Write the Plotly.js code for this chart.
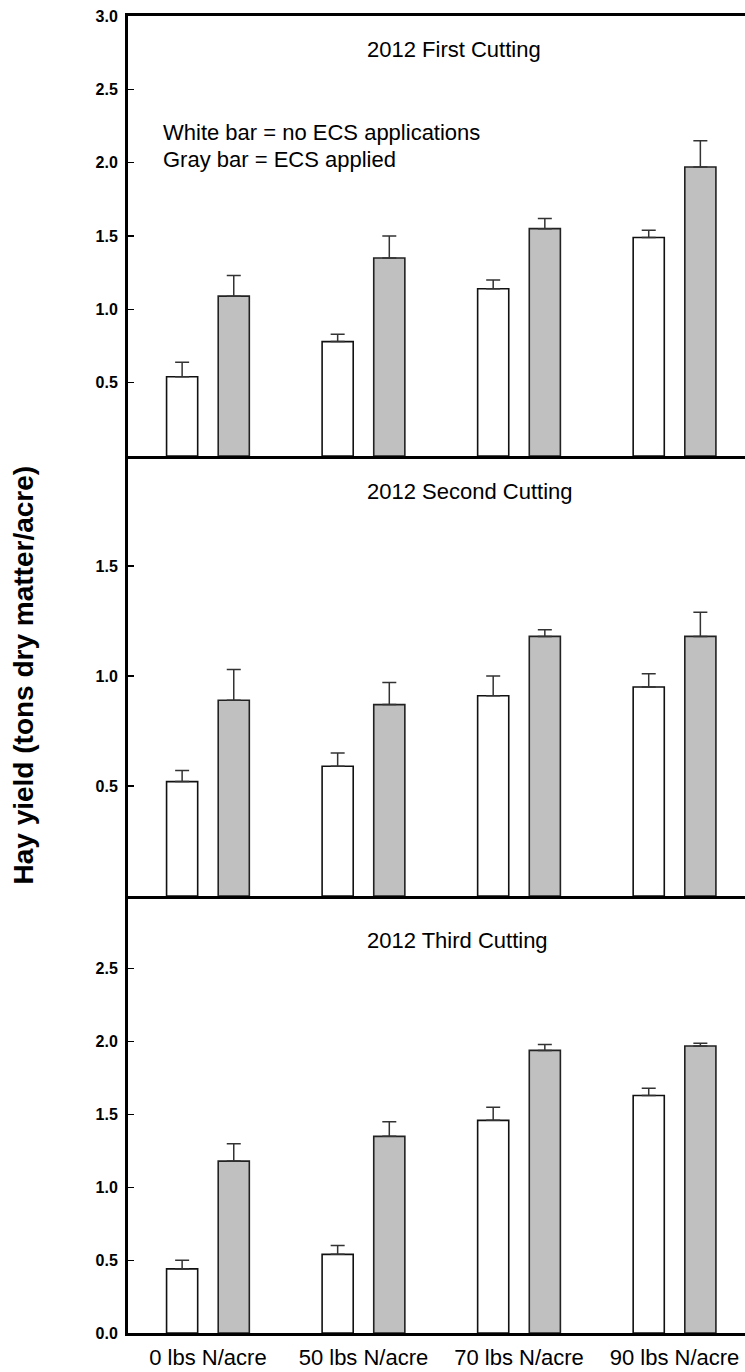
<!DOCTYPE html>
<html>
<head>
<meta charset="utf-8">
<script src="https://cdn.plot.ly/plotly-3.0.1.min.js"></script>
<style>html,body{margin:0;padding:0;background:#fff;}#chart{width:745px;height:1372px;}</style>
</head>
<body>
<div id="chart"></div>
<script>
// ---- data ----
const categories = ["0 lbs N/acre", "50 lbs N/acre", "70 lbs N/acre", "90 lbs N/acre"];
const panelTitles = ["2012 First Cutting", "2012 Second Cutting", "2012 Third Cutting"];
const seriesNames = ["no ECS applications", "ECS applied"];

const firstNoECS = [0.54, 0.78, 1.14, 1.49];
const firstNoECSErr = [0.10, 0.05, 0.06, 0.05];
const firstECS = [1.09, 1.35, 1.55, 1.97];
const firstECSErr = [0.14, 0.15, 0.07, 0.18];

const secondNoECS = [0.52, 0.59, 0.91, 0.95];
const secondNoECSErr = [0.05, 0.06, 0.09, 0.06];
const secondECS = [0.89, 0.87, 1.18, 1.18];
const secondECSErr = [0.14, 0.10, 0.03, 0.11];

const thirdNoECS = [0.44, 0.54, 1.46, 1.63];
const thirdNoECSErr = [0.06, 0.06, 0.09, 0.05];
const thirdECS = [1.18, 1.35, 1.94, 1.97];
const thirdECSErr = [0.12, 0.10, 0.04, 0.02];

const topTicks = [0.5, 1.0, 1.5, 2.0, 2.5, 3.0];
const midTicks = [0.5, 1.0, 1.5];
const botTicks = [0.0, 0.5, 1.0, 1.5, 2.0, 2.5];

// ---- style ----
const FONT = "Liberation Sans, Arial, sans-serif";
const WHITE = "#ffffff", GRAY = "#c0c0c0";

function barPair(vals0, err0, vals1, err1, xa, ya) {
  const common = {type: "bar", x: categories, xaxis: xa, yaxis: ya, width: 0.2, showlegend: false, hoverinfo: "skip"};
  const eb = (arr) => ({type: "data", symmetric: false, array: arr, arrayminus: arr.map(() => 0),
                        color: "#333333", thickness: 1.5, width: 7});
  return [
    Object.assign({}, common, {name: seriesNames[0], y: vals0, offset: -0.266,
      marker: {color: WHITE, line: {color: "#111", width: 1.6}}, error_y: eb(err0)}),
    Object.assign({}, common, {name: seriesNames[1], y: vals1, offset: 0.066,
      marker: {color: GRAY, line: {color: "#222", width: 1.6}}, error_y: eb(err1)})
  ];
}

const data = [].concat(
  barPair(thirdNoECS, thirdNoECSErr, thirdECS, thirdECSErr, "x", "y"),
  barPair(secondNoECS, secondNoECSErr, secondECS, secondECSErr, "x2", "y2"),
  barPair(firstNoECS, firstNoECSErr, firstECS, firstECSErr, "x3", "y3")
);

const xr = [-0.514, 3.453];
function xAxis(extra) {
  return Object.assign({
    type: "category", categoryorder: "array", categoryarray: categories,
    range: xr, showline: true, linecolor: "#000", linewidth: 3, ticks: "",
    showgrid: false, zeroline: false, fixedrange: true
  }, extra);
}
function yAxis(domain, range, ticks, extra) {
  return Object.assign({
    domain: domain, range: range, tickvals: ticks, ticktext: ticks.map(v => v.toFixed(1)),
    showline: true, linecolor: "#000", linewidth: 3, ticks: "inside", ticklen: 6, tickwidth: 1.3,
    tickcolor: "#000", showgrid: false, zeroline: false, ticklabelstandoff: 4,
    tickfont: {family: FONT, size: 16, color: "#000", weight: "bold"}
  }, extra || {});
}

const d1 = 0.3318, d2 = 0.6659;
const layout = {
  width: 745, height: 1372,
  margin: {l: 128, r: 0, t: 16, b: 39},
  paper_bgcolor: "#fff", plot_bgcolor: "#fff",
  barmode: "overlay",
  font: {family: FONT, color: "#000"},
  xaxis: xAxis({anchor: "y", showticklabels: true, tickfont: {family: FONT, size: 22, color: "#000"}, ticklabelstandoff: 3}),
  xaxis2: xAxis({anchor: "y2", showticklabels: false, matches: "x"}),
  xaxis3: xAxis({anchor: "y3", showticklabels: false, matches: "x", mirror: true}),
  yaxis: yAxis([0, d1], [0, 3.0], botTicks, {anchor: "x"}),
  yaxis2: yAxis([d1, d2], [0, 2.0], midTicks, {anchor: "x2"}),
  yaxis3: yAxis([d2, 1], [0, 3.0], topTicks, {anchor: "x3"}),
  annotations: [
    {text: panelTitles[0], xref: "paper", yref: "paper", x: 0.384, y: 0.9742, xanchor: "left", yanchor: "middle",
     showarrow: false, font: {family: FONT, size: 22, color: "#000"}},
    {text: panelTitles[1], xref: "paper", yref: "paper", x: 0.384, y: 0.6393, xanchor: "left", yanchor: "middle",
     showarrow: false, font: {family: FONT, size: 22, color: "#000"}},
    {text: panelTitles[2], xref: "paper", yref: "paper", x: 0.384, y: 0.2984, xanchor: "left", yanchor: "middle",
     showarrow: false, font: {family: FONT, size: 22, color: "#000"}},
    {text: "White bar = " + seriesNames[0], xref: "paper", yref: "paper", x: 0.0535, y: 0.9112, xanchor: "left", yanchor: "middle",
     showarrow: false, font: {family: FONT, size: 22, color: "#000"}},
    {text: "Gray bar = " + seriesNames[1], xref: "paper", yref: "paper", x: 0.0535, y: 0.8907, xanchor: "left", yanchor: "middle",
     showarrow: false, font: {family: FONT, size: 22, color: "#000"}},
    {text: "Hay yield (tons dry matter/acre)", xref: "paper", yref: "paper", x: -0.1686, y: 0.5, xanchor: "center", yanchor: "middle",
     textangle: -90, showarrow: false, font: {family: FONT, size: 28, color: "#000", weight: "bold"}}
  ]
};

Plotly.newPlot("chart", data, layout, {displayModeBar: false, staticPlot: true});
</script>
</body>
</html>
